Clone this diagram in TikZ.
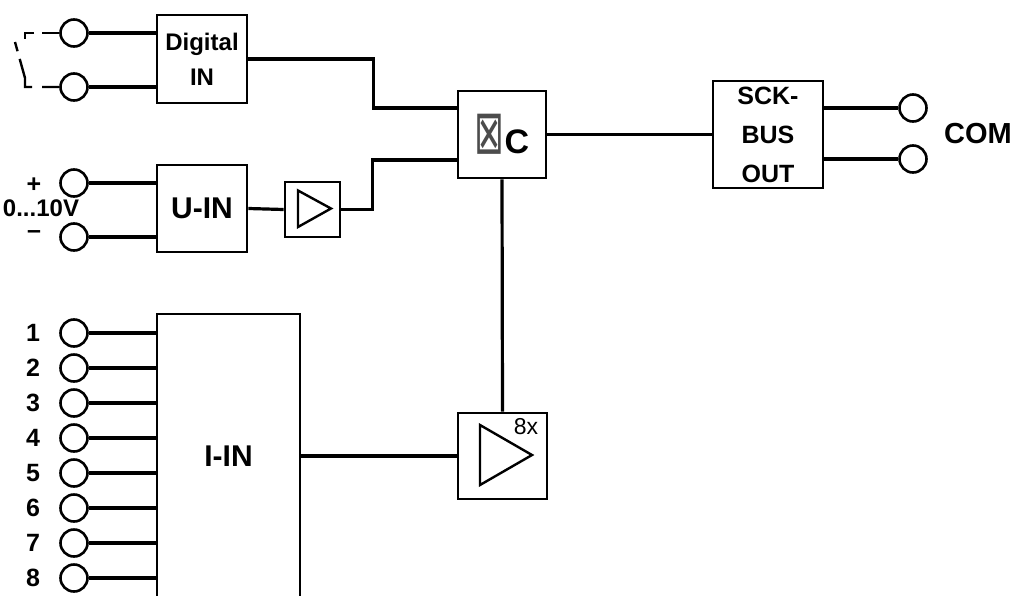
\documentclass[tikz,border=0pt]{standalone}
\usepackage{fontspec}
\setmainfont{Liberation Sans}
\newfontfamily\symfont{DejaVu Sans}
\usetikzlibrary{positioning}

\begin{document}
\begin{tikzpicture}[
    x=1pt, y=-1pt,
    box/.style={rectangle, draw, line width=2.8pt, inner sep=0pt, align=center, font=\bfseries\fontsize{24}{35}\selectfont},
    term/.style={circle, draw, line width=2.6pt, minimum size=27pt, inner sep=0pt},
    wire/.style={line width=3.2pt},
    lbl/.style={font=\bfseries\fontsize{25}{25}\selectfont, inner sep=0pt}
]
    \useasboundingbox (0,0) rectangle (1018,595);

    % blocks
    \node[box, minimum width=90pt, minimum height=88pt] (dig) at (202,59) {Digital\\IN};
    \node[box, minimum width=90pt, minimum height=87pt, font=\bfseries\fontsize{30}{30}\selectfont] (uin) at (202,208.5) {U-IN};
    \node[box, minimum width=143pt, minimum height=284pt, font=\bfseries\fontsize{30}{30}\selectfont] (iin) at (228.5,456) {I-IN};
    \node[box, minimum width=55pt, minimum height=55pt] (amp) at (312.5,209.5) {};
    \node[box, minimum width=88pt, minimum height=87pt, font=\bfseries\fontsize{34}{34}\selectfont] (uc) at (502,134.5) {{\symfont\mdseries\color{black!70}\scalebox{1.05}[1.8]{⊠}}C};
    \node[box, minimum width=89pt, minimum height=86pt] (amp8) at (502.5,456) {};
    \node[box, minimum width=110pt, minimum height=107pt, font=\bfseries\fontsize{25}{39}\selectfont] (sck) at (768,134.5) {SCK-\\BUS\\OUT};

    % amplifier symbols
    \draw[line width=2.4pt, line join=miter] ([shift={(-14.5pt,19pt)}]amp.center) -- ([shift={(-14.5pt,-17.5pt)}]amp.center) -- ([shift={(18.5pt,1pt)}]amp.center) -- cycle;
    \draw[line width=2.4pt, line join=miter] ([shift={(-22.5pt,31pt)}]amp8.center) -- ([shift={(-22.5pt,-29pt)}]amp8.center) -- ([shift={(29.5pt,1pt)}]amp8.center) -- cycle;
    \node[font=\fontsize{23}{23}\selectfont, inner sep=0pt] (gain) at (526,427) {8x};

    % terminals
    \node[term] (d1) at (74,33) {};
    \node[term] (d2) at (74,87) {};
    \node[term] (u1) at (74,183) {};
    \node[term] (u2) at (74,237) {};
    \foreach \i in {1,...,8} {
        \node[term] (i\i) at (74,298+35*\i) {};
        \node[lbl] (n\i) at (33,298+35*\i) {\i};
        \draw[wire] (i\i.east) -- (i\i.east -| iin.west);
    }
    \node[term] (c1) at (913,108) {};
    \node[term] (c2) at (913,159) {};

    % labels
    \node[lbl] (plus) at (34,185) {+};
    \node[lbl, font=\bfseries\fontsize{24}{24}\selectfont] (range) at (41,208) {0...10V};
    \node[lbl] (minus) at (34,235) {--};
    \node[font=\bfseries\fontsize{29}{29}\selectfont, inner sep=0pt] (com) at (978,134) {COM};

    % switch contact
    \draw[line width=2.4pt, dash pattern=on 17pt off 8pt on 20pt off 100pt] (d1.west) -- (25,33) -- (25,39);
    \draw[line width=2.4pt, dash pattern=on 17pt off 10pt on 36pt off 8pt on 12pt off 100pt] (d2.west) -- (25,87) -- (25,78) -- (15,42);

    % wiring
    \draw[wire] (d1.east) -- (d1.east -| dig.west);
    \draw[wire] (d2.east) -- (d2.east -| dig.west);
    \draw[wire] (u1.east) -- (u1.east -| uin.west);
    \draw[wire] (u2.east) -- (u2.east -| uin.west);
    \draw[wire] (dig.east) -- ++(125pt,0) |- ([yshift=26.5pt]uc.west);
    \draw[wire] (uin.east) -- (amp.west);
    \draw[wire] (amp.east) -- ++(31pt,0) |- ([yshift=-25.5pt]uc.west);
    \draw[wire] (uc.east) -- (sck.west);
    \draw[wire] (uc.south) -- (amp8.north);
    \draw[wire] (iin.east) -- (amp8.west);
    \draw[wire] (c1.west -| sck.east) -- (c1.west);
    \draw[wire] (c2.west -| sck.east) -- (c2.west);
\end{tikzpicture}
\end{document}
